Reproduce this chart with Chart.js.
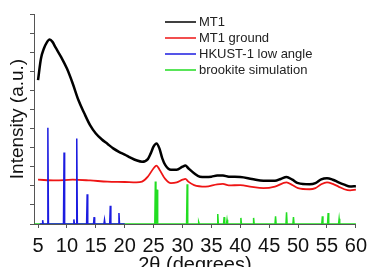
<!DOCTYPE html>
<html>
<head>
<meta charset="utf-8">
<script src="https://cdn.jsdelivr.net/npm/chart.js@4/dist/chart.umd.min.js"></script>
<style>
  html, body { margin: 0; padding: 0; background: #fff; }
  canvas { display: block; }
</style>
</head>
<body>
<canvas id="xrd" width="373" height="267"></canvas>
<script>
// MT1 (as synthesised)
const mt1X = [5, 5.5, 6, 6.5, 7, 7.5, 8, 9, 10, 11, 12, 13, 14, 15, 16, 17, 18, 19, 20, 21, 22, 23, 24, 24.5, 25, 25.5, 26, 26.5, 27, 28, 29, 30, 30.5, 31, 32, 33, 34, 35, 36, 37, 38, 40, 42, 44, 46, 47, 48, 49, 50, 52, 53, 54, 55, 56, 57, 58, 59, 60];
const mt1Y = [3.77, 4.33, 4.59, 4.75, 4.83, 4.77, 4.63, 4.37, 4.07, 3.68, 3.24, 2.90, 2.59, 2.37, 2.22, 2.10, 1.98, 1.89, 1.82, 1.74, 1.67, 1.63, 1.70, 1.85, 2.03, 2.11, 1.98, 1.72, 1.55, 1.42, 1.42, 1.50, 1.53, 1.46, 1.33, 1.24, 1.23, 1.24, 1.27, 1.27, 1.24, 1.23, 1.18, 1.13, 1.13, 1.18, 1.23, 1.16, 1.07, 1.04, 1.07, 1.17, 1.20, 1.16, 1.09, 1.03, 0.98, 0.99];

// MT1 ground
const groundX = [5, 8, 11, 14, 17, 20, 22, 23, 24, 25, 25.5, 26, 27, 28, 29, 30, 30.5, 31, 32, 34, 36, 37, 38, 40, 42, 44, 46, 48, 49, 50, 52, 53, 54, 55, 56, 57, 58, 59, 60];
const groundY = [1.16, 1.14, 1.16, 1.14, 1.11, 1.10, 1.09, 1.11, 1.24, 1.46, 1.53, 1.43, 1.18, 1.07, 1.09, 1.16, 1.18, 1.11, 1.02, 0.98, 1.04, 1.05, 1.01, 1.02, 0.97, 0.94, 0.98, 1.09, 1.02, 0.94, 0.91, 0.94, 1.04, 1.09, 1.05, 0.98, 0.91, 0.88, 0.90];

// HKUST-1 low angle reflections
const hkustPos = [5.8, 6.7, 9.5, 11.2, 11.7, 13.5, 14.7, 16.5, 17.5, 19.0];
const hkustInt = [0.10, 2.52, 1.87, 0.12, 2.24, 0.78, 0.18, 0.11, 0.48, 0.29];
const hkustRange = [5.3, 20];

// brookite simulation reflections
const brookPos = [25.3, 25.6, 30.8, 32.8, 36.1, 37.2, 37.7, 40.1, 42.3, 46.1, 48.0, 49.2, 54.2, 55.2, 57.1];
const brookInt = [1.11, 0.90, 1.04, 0.05, 0.26, 0.18, 0.11, 0.16, 0.16, 0.20, 0.31, 0.18, 0.20, 0.29, 0.14];
const brookRange = [4.4, 60];

const xTickVals = [5, 7.5, 10, 12.5, 15, 17.5, 20, 22.5, 25, 27.5, 30, 32.5, 35, 37.5, 40, 42.5, 45, 47.5, 50, 52.5, 55, 57.5, 60];
const yTickVals = [0, 0.5, 1, 1.5, 2, 2.5, 3, 3.5, 4, 4.5, 5, 5.5];

const seriesNames = ['MT1', 'MT1 ground', 'HKUST-1 low angle', 'brookite simulation'];
const seriesColors = ['#000000', '#ee1515', '#1c1ce0', '#22dd22'];

const FONT = 'Arial, "Liberation Sans", sans-serif';

function pairs(xs, ys) {
  return xs.map((x, i) => ({ x: x, y: ys[i] }));
}

// stick pattern: thin spike for each reflection on a zero baseline
function sticks(pos, inten, range) {
  const half = 0.1;
  const pts = [{ x: range[0], y: 0 }];
  pos.forEach((p, i) => {
    pts.push({ x: p - half, y: 0 });
    pts.push({ x: p, y: inten[i] });
    pts.push({ x: p + half, y: 0 });
  });
  pts.push({ x: range[1], y: 0 });
  return pts;
}

const legendPlugin = {
  id: 'insideLegend',
  afterDraw(chart) {
    const ctx = chart.ctx;
    const rows = [22, 38, 54, 70];
    ctx.save();
    ctx.font = '13px ' + FONT;
    ctx.textBaseline = 'middle';
    ctx.textAlign = 'left';
    seriesNames.forEach((name, i) => {
      ctx.strokeStyle = seriesColors[i];
      ctx.lineWidth = 1.5;
      ctx.beginPath();
      ctx.moveTo(165, rows[i]);
      ctx.lineTo(196, rows[i]);
      ctx.stroke();
      ctx.fillStyle = '#222';
      ctx.fillText(name, 199, rows[i]);
    });
    ctx.restore();
  }
};

new Chart(document.getElementById('xrd').getContext('2d'), {
  type: 'line',
  data: {
    datasets: [
      {
        label: seriesNames[2],
        data: sticks(hkustPos, hkustInt, hkustRange),
        borderColor: seriesColors[2],
        borderWidth: 1.5,
        pointRadius: 0,
        tension: 0
      },
      {
        label: seriesNames[3],
        data: sticks(brookPos, brookInt, brookRange),
        borderColor: seriesColors[3],
        borderWidth: 1.5,
        pointRadius: 0,
        tension: 0
      },
      {
        label: seriesNames[1],
        data: pairs(groundX, groundY),
        borderColor: seriesColors[1],
        borderWidth: 1.8,
        pointRadius: 0,
        cubicInterpolationMode: 'monotone'
      },
      {
        label: seriesNames[0],
        data: pairs(mt1X, mt1Y),
        borderColor: seriesColors[0],
        borderWidth: 2.5,
        pointRadius: 0,
        cubicInterpolationMode: 'monotone'
      }
    ]
  },
  options: {
    responsive: false,
    animation: false,
    devicePixelRatio: 1,
    layout: { padding: { top: 14, right: 13, bottom: 0, left: 0 } },
    plugins: {
      legend: { display: false },
      tooltip: { enabled: false }
    },
    scales: {
      x: {
        type: 'linear',
        min: 4.3,
        max: 60,
        afterBuildTicks: (scale) => { scale.ticks = xTickVals.map(v => ({ value: v })); },
        afterFit: (scale) => { scale.height = 43; },
        border: { display: true, color: '#555', width: 1 },
        grid: { drawOnChartArea: false, drawTicks: true, tickLength: 4, color: '#555' },
        ticks: {
          color: '#111',
          padding: 6,
          maxRotation: 0,
          autoSkip: false,
          font: { family: FONT, size: 20 },
          callback: (v) => (v % 5 === 0 ? String(v) : null)
        },
        title: {
          display: true,
          text: '2θ (degrees)',
          color: '#111',
          font: { family: FONT, size: 20, lineHeight: 1.2 },
          padding: { top: 0, bottom: -10 }
        }
      },
      y: {
        type: 'linear',
        min: 0,
        max: 5.5,
        afterBuildTicks: (scale) => { scale.ticks = yTickVals.map(v => ({ value: v })); },
        afterFit: (scale) => { scale.width = 34; },
        border: { display: true, color: '#555', width: 1 },
        grid: { drawOnChartArea: false, drawTicks: true, tickLength: 4, color: '#555' },
        ticks: { display: false },
        title: {
          display: true,
          text: 'Intensity (a.u.)',
          color: '#111',
          font: { family: FONT, size: 19, lineHeight: 1.2 },
          padding: { top: 6, bottom: 0 }
        }
      }
    }
  },
  plugins: [legendPlugin]
});
</script>
</body>
</html>
